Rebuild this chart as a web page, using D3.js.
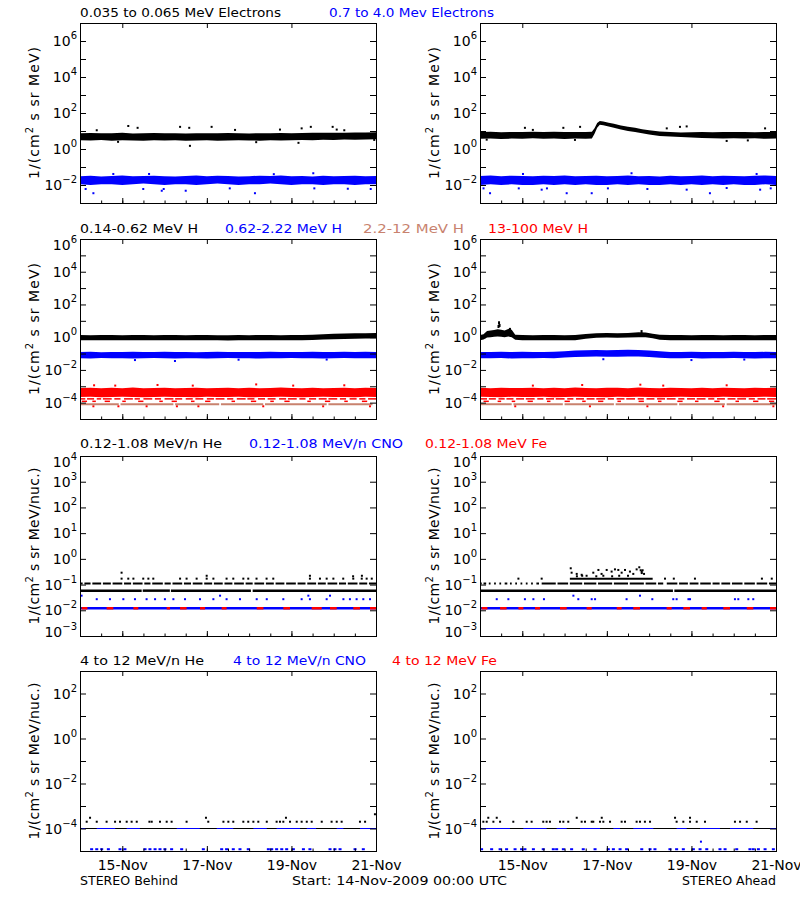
<!DOCTYPE html>
<html><head><meta charset="utf-8">
<script src="https://cdn.jsdelivr.net/npm/d3@7"></script>
<style>body{margin:0;background:#fff}svg{display:block}text{font-family:"DejaVu Sans",sans-serif}</style>
</head><body><svg id="c" width="800" height="900"></svg>
<script>
// ---------------- DATA (hours since 14-Nov-2009 00:00 UTC) ----------------
const hrs6 = [0,6,12,18,24,30,36,42,48,54,60,66,72,78,84,90,96,102,108,114,120,126,132,138,144,150,156,162,168];

// Row 1: electrons
const eLoB = [3.1,3.0,3.2,2.9,3.1,3.0,2.9,3.1,3.0,3.1,2.9,3.0,3.1,2.9,3.0,3.1,3.0,2.9,3.1,3.0,3.1,3.2,3.1,3.3,3.2,3.4,3.3,3.4,3.5];
const eHiB = [7.6,7.8,7.4,7.6,7.9,7.3,7.5,7.7,7.4,7.5,7.3,7.6,7.4,7.5,7.7,7.4,7.3,7.5,7.6,7.7,7.5,7.8,7.9,8.0,7.9,8.1,8.3,8.2,8.4];
const eOutB = [[21.6,2.5],[27.4,19],[32.7,15],[56.8,17],[62,15],[62.4,1.5],[74.7,17],[113.5,12],[124,2.2],[125.8,14],[131,17],[143.4,17],[145.7,12],[167,3.2],[9.5,11],[88,11.5],[100,2.4],[150,11]];
const ehLoB = [0.011,0.010,0.011,0.011,0.010,0.011,0.012,0.011,0.010,0.011,0.011,0.010,0.011,0.012,0.011,0.010,0.011,0.011,0.012,0.011,0.010,0.011,0.011,0.010,0.011,0.011,0.010,0.011,0.011];
const ehHiB = [0.031,0.033,0.030,0.032,0.034,0.031,0.032,0.033,0.031,0.030,0.032,0.034,0.031,0.033,0.032,0.030,0.031,0.033,0.032,0.034,0.031,0.032,0.030,0.033,0.031,0.032,0.033,0.031,0.032];
const ehOutB = [[3.2,0.006],[7.6,0.0035],[18.9,0.041],[35.9,0.006],[39.2,0.041],[46.4,0.0048],[47.5,0.006],[60,0.0048],[99.3,0.0035],[132.4,0.045],[133,0.0065],[165,0.006],[85,0.0065],[110,0.04],[152,0.0062]];

const eHrsA = [0,6,12,18,24,30,36,42,48,54,60,63.5,65,66.5,68,70,73,76,80,84,88,92,96,102,108,114,120,126,132,138,144,150,156,162,168];
const eLoA = [3.7,3.8,3.6,3.8,3.7,3.9,3.7,3.8,3.6,3.8,3.7,3.8,7,15,22,21,18,15,12,10,8.8,7.4,6.4,5.3,4.9,4.6,4.3,4.1,3.9,3.8,3.9,3.8,3.9,3.7,3.8];
const eHiA = [8.8,9.0,8.6,8.9,8.7,9.1,8.8,9.0,8.7,8.9,8.8,9.2,14,28,36,34,29,25,20,17,15,12.5,11,9.5,8.8,8.3,8.5,8.7,8.6,8.8,8.7,8.9,8.6,8.8,8.9];
const eOutA = [[25.5,15],[47.3,15],[56.8,17],[53.9,3.2],[106,14],[113.5,17],[117.3,18],[161.8,14],[152,3],[3.8,3.3],[140,2.8],[30,11.5]];
const ehLoA = [0.010,0.011,0.010,0.011,0.010,0.010,0.011,0.010,0.011,0.010,0.011,0.010,0.010,0.011,0.010,0.011,0.010,0.010,0.011,0.010,0.011,0.010,0.011,0.010,0.011,0.010,0.010,0.011,0.010];
const ehHiA = [0.032,0.034,0.031,0.033,0.032,0.031,0.033,0.032,0.034,0.031,0.032,0.033,0.031,0.032,0.034,0.031,0.032,0.030,0.033,0.031,0.032,0.034,0.031,0.033,0.032,0.031,0.033,0.034,0.032];
const ehOutA = [[5.7,0.0035],[2,0.0065],[35,0.0055],[49.2,0.0035],[63.4,0.0035],[72.6,0.0065],[117.3,0.0055],[130.5,0.0035],[159,0.0055],[165,0.0065],[24.4,0.041],[86,0.045],[157,0.041],[22,0.0065],[38,0.0065],[95,0.006],[140,0.0068]];

// Row 2: protons
const hLoB = [0.65,0.64,0.66,0.65,0.64,0.66,0.65,0.64,0.65,0.66,0.64,0.65,0.66,0.64,0.63,0.65,0.64,0.66,0.65,0.64,0.65,0.66,0.68,0.72,0.75,0.78,0.80,0.82,0.83];
const hHiB = [1.35,1.33,1.36,1.34,1.32,1.35,1.34,1.33,1.35,1.36,1.33,1.34,1.35,1.32,1.31,1.34,1.33,1.35,1.34,1.33,1.35,1.38,1.43,1.52,1.60,1.68,1.72,1.76,1.80];
const hbLoB = [0.052,0.050,0.053,0.051,0.052,0.050,0.051,0.053,0.052,0.050,0.051,0.052,0.050,0.051,0.053,0.052,0.051,0.050,0.052,0.051,0.053,0.052,0.051,0.050,0.052,0.053,0.051,0.052,0.051];
const hbHiB = [0.125,0.128,0.122,0.126,0.124,0.127,0.123,0.125,0.128,0.124,0.126,0.122,0.125,0.127,0.124,0.126,0.123,0.125,0.128,0.124,0.126,0.125,0.127,0.124,0.126,0.128,0.125,0.127,0.126];
const hbOutB = [[31.2,0.04],[53.9,0.035],[90,0.042],[140,0.043]];
const prLoB = [2.2e-4,2.3e-4,2.1e-4,2.2e-4,2.3e-4,2.2e-4,2.1e-4,2.2e-4,2.3e-4,2.2e-4,2.2e-4,2.1e-4,2.3e-4,2.2e-4,2.2e-4,2.3e-4,2.1e-4,2.2e-4,2.2e-4,2.3e-4,2.2e-4,2.1e-4,2.2e-4,2.3e-4,2.2e-4,2.2e-4,2.1e-4,2.3e-4,2.2e-4];
const prHiB = [7.8e-4,8.2e-4,7.5e-4,8.0e-4,7.7e-4,8.3e-4,7.6e-4,7.9e-4,8.1e-4,7.6e-4,7.8e-4,8.0e-4,7.5e-4,7.9e-4,8.2e-4,7.7e-4,8.0e-4,7.6e-4,7.9e-4,8.3e-4,7.8e-4,7.7e-4,8.1e-4,7.6e-4,7.9e-4,8.0e-4,7.7e-4,8.2e-4,7.9e-4];
const prOutB = [[8,1.15e-3],[20,1.1e-3],[44,1.2e-3],[64,1.1e-3],[100,1.3e-3],[121,1.1e-3],[150,1.15e-3],[7.6,6e-5],[21.8,6e-5],[37.8,6e-5],[55,6e-5],[67.2,6e-5],[104,6e-5],[138,6e-5],[164.6,6e-5]];
const prDash1B = [[0,3],[4,8],[9.5,12],[13,18],[19.5,23],[25,30],[31,34],[36,41],[42.5,46],[48,53],[54,58],[60,64],[65.5,70],[72,76],[77,82],[83.5,87],[89,94],[95,99],[101,105],[106.5,111],[113,117],[118,123],[124.5,128],[130,134],[135.5,140],[141,146],[147.5,151],[153,157],[158.5,162],[163.5,168]];
const prDash2B = [[1,4],[7,9],[14,17],[24,26],[33,36],[45,47],[52,55],[63,65],[71,74],[86,88],[97,100],[108,110],[116,119],[129,131],[139,142],[150,152],[160,163]];
const pmSegB = [[0,22],[23,53],[54,79],[80,104],[105,140],[141,166]];

const hHrsA = [0,2,4,6,8,10,12,14,16,18,20,24,30,36,42,48,54,60,66,72,78,84,90,94,98,102,108,114,120,126,132,138,144,150,156,162,168];
const hLoA = [0.66,0.72,0.95,1.0,1.05,1.1,1.05,1.0,1.1,1.0,0.70,0.65,0.64,0.66,0.65,0.64,0.66,0.80,0.92,0.95,0.93,0.96,1.0,1.0,0.85,0.70,0.66,0.65,0.64,0.66,0.65,0.64,0.65,0.66,0.64,0.65,0.66];
const hHiA = [1.36,1.5,2.4,2.6,2.7,3.0,2.8,2.6,3.2,2.8,1.4,1.34,1.32,1.35,1.34,1.33,1.36,1.55,1.75,1.78,1.76,1.82,2.0,1.95,1.6,1.4,1.35,1.34,1.33,1.36,1.34,1.33,1.35,1.34,1.33,1.35,1.36];
const hOutA = [[10.5,4.5],[10.8,7.6],[11.1,5.2],[17,3.0],[16.6,2.6],[91.7,2.2]];
const hbLoA = [0.052,0.051,0.053,0.050,0.052,0.051,0.053,0.052,0.058,0.062,0.064,0.065,0.063,0.064,0.066,0.065,0.062,0.056,0.052,0.051,0.053,0.050,0.052,0.051,0.053,0.052,0.050,0.052,0.051];
const hbHiA = [0.126,0.124,0.128,0.125,0.127,0.123,0.126,0.128,0.140,0.155,0.160,0.165,0.158,0.162,0.168,0.165,0.155,0.138,0.126,0.124,0.127,0.125,0.123,0.126,0.128,0.125,0.124,0.127,0.126];
const hbOutA = [[120,0.04],[70,0.045],[150,0.043]];
const prLoA = [2.3e-4,2.2e-4,2.1e-4,2.3e-4,2.2e-4,2.2e-4,2.3e-4,2.1e-4,2.2e-4,2.3e-4,2.2e-4,2.2e-4,2.1e-4,2.3e-4,2.2e-4,2.3e-4,2.2e-4,2.1e-4,2.2e-4,2.3e-4,2.2e-4,2.2e-4,2.1e-4,2.3e-4,2.2e-4,2.1e-4,2.2e-4,2.3e-4,2.2e-4];
const prHiA = [8.0e-4,7.6e-4,8.2e-4,7.8e-4,7.9e-4,8.1e-4,7.5e-4,8.0e-4,7.7e-4,8.3e-4,7.9e-4,7.6e-4,8.0e-4,8.2e-4,7.7e-4,8.4e-4,7.9e-4,7.6e-4,8.1e-4,7.8e-4,7.7e-4,8.0e-4,7.6e-4,8.2e-4,7.9e-4,7.7e-4,8.1e-4,7.8e-4,8.0e-4];
const prOutA = [[58,1.2e-3],[91,1.25e-3],[104,1.1e-3],[30,1.1e-3],[140,1.15e-3],[62.4,6e-5],[138,6e-5],[166.5,6e-5],[20,6e-5],[95,6e-5]];
const prDash1A = [[0,4],[5,9],[10.5,14],[15,19],[20.5,25],[26,31],[32.5,36],[37.5,42],[43,48],[49.5,53],[54.5,59],[60.5,65],[66,71],[72.5,76],[77.5,82],[83,88],[89.5,93],[94.5,99],[100.5,105],[106,111],[112.5,116],[117.5,122],[123,128],[129.5,133],[134.5,139],[140.5,145],[146,151],[152.5,156],[157.5,162],[163,168]];
const prDash2A = [[2,5],[10,12],[18,20],[27,30],[38,40],[48,51],[58,60],[67,70],[78,80],[90,93],[101,103],[112,115],[122,124],[133,136],[145,147],[155,158],[164,167]];
const pmSegA = [[0,18],[19,47],[48,76],[77,112],[113,139],[140,168]];

// Row 3: 0.12-1.08 MeV/n heavy ions (levels are count-quantized)
const he3Level = 0.058, he3DashLevel = 0.11, he3SparseLevel = 0.17, cno3Level = 0.012, cno3DotLevel = 0.027, cno3HighLevel = 0.037;
const he3SegB = [[0,35],[35.6,51],[51.6,97],[98,168]];
const he3DashB = [[0,1.5],[2.5,6],[7,12],[13,17.5],[18.5,24],[25,29],[30,35.5],[36.5,40],[41,47],[48,51.5],[52.5,58],[59,63],[64,69.5],[70.5,75],[76,81],[82,86.5],[87.5,93],[94,98],[99,104.5],[105.5,110],[111,116],[117,122.5],[123.5,128],[129,134],[135,139.5],[140.5,146],[147,151],[152,157.5],[158.5,163],[164,168]];
const he3SparseB = [23.6,27.4,30.3,35.9,38.8,41.6,56.8,60.5,66.2,71.9,75.7,83.2,87,92.7,95.5,100.2,105.9,109.7,130.5,136.2,140,143.8,149.4,155.1,159.9,162.7,165.6];
const he3HighB = [[23.6,0.29],[71.9,0.22],[130.5,0.22],[155,0.21],[160,0.22]];
const cno3DotsB = [9.5,17,24.6,31.2,37.8,42.6,48.2,53,59.6,68.1,75.7,83.2,90.8,100.3,106,115.4,125.8,130.5,140,149.5,153.2,157,160.8,164.6];
const cno3HighB = [0.9,79.5,129.6,141.9];
const fe3SegB = [[0.9,4.2],[15.1,18.9],[30.3,33.1],[49.2,51.1],[56.8,60.5],[68.1,71],[80.4,83.2],[100.3,104.1],[115.4,119.2],[131.5,137.2],[141.9,145.7],[155.1,158.9],[164.6,168]];

const he3SegA = [[0,109.5],[110.3,168]];
const he3DashA = [[0,1],[2,3.5],[5,6],[8,9],[11,12],[14,15.5],[17,18],[20,21],[23,24],[26,27],[29,30],[32,33.5],[35,43],[44,50],[51,58],[59,66],[67,75],[76,84],[85,93],[94,100],[101,104],[106,112],[113,118],[119,124],[125,131],[132,136],[137,142],[143,149],[150,156],[157,163],[164,168]];
const he3SparseA = [21.8,35,105,110,122,160,165.6];
const he3BarA = [[51,98]];
const he3ClusterA = [[51.5,0.43],[52,0.29],[54.9,0.26],[57.7,0.24],[60.5,0.22],[64.3,0.29],[67.2,0.37],[69,0.26],[71.9,0.37],[74.7,0.32],[76.6,0.39],[78.5,0.37],[80.4,0.29],[82.3,0.37],[85.1,0.32],[87,0.26],[88.9,0.39],[90.4,0.47],[91.8,0.32],[93.1,0.26],[55,0.21],[58,0.22],[66,0.21],[70,0.22],[75,0.21],[79,0.22],[84,0.22],[91.2,0.36],[92.3,0.36],[91.8,0.28]];
const cno3DotsA = [9.5,16.1,25.5,30.3,36.3,55.8,63.4,65.3,83.2,97.8,109.7,111.6,118.3,119.2,144.7,146.6,152.3,155.1];
const cno3HighA = [53,90.8];
const fe3SegA = [[0.9,4.2],[11.4,15.1],[21.8,24.6],[31.2,34.1],[45.4,49.2],[60.5,63.4],[77.6,80.4],[87,90.8],[105.9,108.8],[115.4,119.2],[125.8,128.7],[138.1,141.9],[151.4,155.1],[164.6,168]];

// Row 4: 4-12 MeV/n heavy ions
const he4Level = 1e-4, he4DotLevel = 2e-4, cno4DotLevel = 1.2e-5;
const he4SegB = [[0,168]];
const cno4SegB = [[0.9,3],[9.5,20],[26.5,34],[54.9,68],[77.6,87],[98.4,106],[111.6,124.9],[128.7,134],[145.7,149.5],[158.9,168]];
const he4DotsB = [3.8,9.5,15.1,19.9,22.7,26.5,29.3,32.2,39.4,40.7,45.4,49.2,52,60.5,72.8,81.4,84.2,87,92.7,95.5,98.4,101.2,106,111.6,113.5,115.4,119.2,123,125.8,128.7,131.5,137.2,142.8,145.7,148.5,158.9,161.8];
const he4HighB = [[5.7,3e-4],[71.5,3e-4],[116.9,3e-4],[167.4,4.3e-4]];
const cno4DotsB = [6.6,9.5,12.3,16.1,22.7,25.5,36.9,39.7,42.6,45.4,48.2,52,57.7,70,80.4,83.2,87,90.8,95.5,106.9,108.8,111.6,114.5,117.3,121.1,126.8,130.5,141.9,144.7,147.6,156.1,160.8];

const he4SegA = [[0,168]];
const cno4SegA = [[0.9,17],[24.6,37.8],[43.5,49.2],[56.8,68.1],[75.7,79.5],[87,98.4],[111.6,117.3],[124.9,136.2],[141.9,155.1],[164.6,168]];
const he4DotsA = [1.9,3.8,7.6,11.4,18.9,26.5,29.3,35.9,37.8,39.7,45.4,47.3,50.1,57.7,59.6,63.4,64.3,68.1,70,73.8,80.4,82.3,88.9,90.8,93.6,96.5,111.6,115.4,119.2,123,127.7,144.7,147.6,151.4,157];
const he4HighA = [[4.7,3e-4],[9.5,3e-4],[54.9,3e-4],[69.1,3e-4],[110.7,3e-4],[119.2,3e-4]];
const cno4DotsA = [0.9,6.6,11.4,15.1,19.9,23.6,25.5,30.3,35.9,41.6,43.5,47.3,52,58.6,65.3,72.8,75.7,79.5,83.2,91.8,96.5,99.3,107.8,111.6,115.4,121.1,124.9,128.7,136.2,139.1,145.7,153.2,155.1,158,161.8,166.5];
const cno4OddA = [[125.4,2.6e-5]];

// Text
const titleText = [["0.035 to 0.065 MeV Electrons","0.7 to 4.0 Mev Electrons"],
  ["0.14-0.62 MeV H","0.62-2.22 MeV H","2.2-12 MeV H","13-100 MeV H"],
  ["0.12-1.08 MeV/n He","0.12-1.08 MeV/n CNO","0.12-1.08 MeV Fe"],
  ["4 to 12 MeV/n He","4 to 12 MeV/n CNO","4 to 12 MeV Fe"]];
const yTitleUnit = ["MeV)","MeV)","MeV/nuc.)","MeV/nuc.)"];

// ---------------- LAYOUT / STYLE ----------------
const BLUE="#0000ff", RED="#ff0000", SIENNA="#c8826e", BLACK="#000000";
const titleColor = [[BLACK,BLUE],[BLACK,BLUE,SIENNA,RED],[BLACK,BLUE,RED],[BLACK,BLUE,RED]];
const titlePos = [[[80,201],[329,165]],[[80,118],[225,117],[363,101],[488,100]],[[80,142],[249,154],[425,122]],[[80,124],[233,133],[392,105]]];
const titleBase = [17,233,448,665];
const PW=296, PH=180;
const colX=[80,480];
const rowY=[23,239,456,671];
const rowExp=[[-3,7],[-5,6],[-3,4],[-5,3]];
const rowStep=[2,2,1,2];
const yTitleLen=[132,132,157,157];

const t0 = Date.UTC(2009,10,14,0,0);
const toDate = h => new Date(t0 + h*3600000);
const svg = d3.select("#c");
let clipN=0;

function makePanel(r,c){
  const x=d3.scaleUtc().domain([toDate(0),toDate(168)]).range([colX[c],colX[c]+PW]);
  const y=d3.scaleLog().domain([10**rowExp[r][0],10**rowExp[r][1]]).range([rowY[r]+PH,rowY[r]]);
  const id="clip"+(clipN++);
  svg.append("clipPath").attr("id",id).append("rect").attr("x",colX[c]).attr("y",rowY[r]).attr("width",PW+1).attr("height",PH+1);
  const g=svg.append("g").attr("clip-path",`url(#${id})`);
  return {x,y,g,r,c};
}
function band(p,hours,lo,hi,color){
  const area=d3.area().x((d,i)=>p.x(toDate(hours[i]))).y0((d,i)=>p.y(lo[i])).y1((d,i)=>p.y(hi[i]));
  p.g.append("path").datum(hours).attr("d",area).attr("fill",color);
}
function pts(p,data,color,w=2,h=2){
  p.g.append("g").selectAll("rect").data(data).join("rect")
   .attr("x",d=>p.x(toDate(d[0]))-w/2).attr("y",d=>p.y(d[1])-h/2)
   .attr("width",w).attr("height",h).attr("fill",color);
}
function lvl(p,hours,v,color,w=2,h=2){ pts(p,hours.map(t=>[t,v]),color,w,h); }
function segs(p,list,v,color,sw){
  p.g.append("g").selectAll("line").data(list).join("line")
   .attr("x1",d=>p.x(toDate(d[0]))).attr("x2",d=>p.x(toDate(d[1])))
   .attr("y1",p.y(v)).attr("y2",p.y(v)).attr("stroke",color).attr("stroke-width",sw);
}
function axes(p){
  const {x,y,r,c}=p; const top=rowY[r], bot=top+PH, left=colX[c], right=left+PW;
  const exps=d3.range(rowExp[r][0],rowExp[r][1]+1);
  const dec=exps.map(e=>10**e);
  const style=g=>{g.select(".domain").remove(); g.selectAll("line").attr("stroke","#000"); };
  svg.append("g").attr("transform",`translate(${left},0)`).call(d3.axisLeft(y).tickValues(dec).tickSize(-6).tickFormat("")).call(style);
  svg.append("g").attr("transform",`translate(${right},0)`).call(d3.axisRight(y).tickValues(dec).tickSize(-6).tickFormat("")).call(style);
  svg.append("g").attr("transform",`translate(0,${bot})`).call(d3.axisBottom(x).ticks(d3.utcHour.every(12)).tickSize(-2.5).tickFormat("")).call(style);
  const gb=svg.append("g").attr("transform",`translate(0,${bot})`)
   .call(d3.axisBottom(x).ticks(d3.utcDay.every(2)).tickSize(-5).tickPadding(9).tickFormat(r===3?d3.utcFormat("%d-%b"):"")).call(style);
  gb.selectAll("text").attr("font-size","14px").attr("font-family","DejaVu Sans").attr("fill","#000");
  svg.append("g").attr("transform",`translate(0,${top})`).call(d3.axisTop(x).ticks(d3.utcDay.every(2)).tickSize(-5).tickFormat("")).call(style);
  svg.append("rect").attr("x",left+0.5).attr("y",top+0.5).attr("width",PW).attr("height",PH).attr("fill","none").attr("stroke","#000");
  // y tick labels 10^n (edge labels nudged inside, as in the original)
  const labs=exps.filter(e=>((e%rowStep[r])+rowStep[r])%rowStep[r]===0);
  const nudge=e=> e===rowExp[r][1]?6:(e===rowExp[r][0]?-4:0);
  const t=svg.append("g").selectAll("text").data(labs).join("text")
    .attr("x",left-3).attr("y",e=>y(10**e)+5+nudge(e)).attr("text-anchor","end").attr("fill","#000");
  t.append("tspan").attr("font-size","14px").text("10");
  t.append("tspan").attr("font-size","10px").attr("dy",-7).text(e=>e<0?"\u2212"+(-e):String(e));
  // y title
  const cy=top+PH/2;
  const yt=svg.append("text").attr("transform",`translate(${left-41},${cy}) rotate(-90)`).attr("text-anchor","middle")
    .attr("font-size","14px").attr("textLength",yTitleLen[r]).attr("fill","#000");
  yt.append("tspan").text("1/(cm");
  yt.append("tspan").attr("font-size","10px").attr("dy",-6).text("2");
  yt.append("tspan").attr("dy",6).text(" s sr "+yTitleUnit[r]);
}

// ---------------- DRAW ----------------
const P={};
for(let r=0;r<4;r++) for(let c=0;c<2;c++) P[r+"_"+c]=makePanel(r,c);

// row 1
let p=P["0_0"]; band(p,hrs6,eLoB,eHiB,BLACK); pts(p,eOutB,BLACK); band(p,hrs6,ehLoB,ehHiB,BLUE); pts(p,ehOutB,BLUE);
p=P["0_1"]; band(p,eHrsA,eLoA,eHiA,BLACK); pts(p,eOutA,BLACK); band(p,hrs6,ehLoA,ehHiA,BLUE); pts(p,ehOutA,BLUE);
// row 2
p=P["1_0"]; band(p,hrs6,prLoB,prHiB,RED); pts(p,prOutB,RED); segs(p,prDash1B,1.7e-4,RED,1.5); segs(p,prDash2B,1.2e-4,RED,1.5); segs(p,pmSegB,8e-5,SIENNA,2);
band(p,hrs6,hbLoB,hbHiB,BLUE); pts(p,hbOutB,BLUE); band(p,hrs6,hLoB,hHiB,BLACK);
p=P["1_1"]; band(p,hrs6,prLoA,prHiA,RED); pts(p,prOutA,RED); segs(p,prDash1A,1.7e-4,RED,1.5); segs(p,prDash2A,1.2e-4,RED,1.5); segs(p,pmSegA,8e-5,SIENNA,2);
band(p,hrs6,hbLoA,hbHiA,BLUE); pts(p,hbOutA,BLUE); band(p,hHrsA,hLoA,hHiA,BLACK); pts(p,hOutA,BLACK,2,3);
// row 3
p=P["2_0"]; segs(p,he3SegB,he3Level,BLACK,2.5); segs(p,he3DashB,he3DashLevel,BLACK,2); lvl(p,he3SparseB,he3SparseLevel,BLACK); pts(p,he3HighB,BLACK);
segs(p,[[0,168]],cno3Level,BLUE,2.5); segs(p,fe3SegB,cno3Level,RED,2.5); lvl(p,cno3DotsB,cno3DotLevel,BLUE); lvl(p,cno3HighB,cno3HighLevel,BLUE);
p=P["2_1"]; segs(p,he3SegA,he3Level,BLACK,2.5); segs(p,he3DashA,he3DashLevel,BLACK,2); lvl(p,he3SparseA,he3SparseLevel,BLACK); segs(p,he3BarA,he3SparseLevel,BLACK,2); pts(p,he3ClusterA,BLACK);
segs(p,[[0,168]],cno3Level,BLUE,2.5); segs(p,fe3SegA,cno3Level,RED,2.5); lvl(p,cno3DotsA,cno3DotLevel,BLUE); lvl(p,cno3HighA,cno3HighLevel,BLUE);
// row 4
p=P["3_0"]; segs(p,he4SegB,he4Level,BLACK,1); segs(p,cno4SegB,he4Level,BLUE,1); lvl(p,he4DotsB,he4DotLevel,BLACK); pts(p,he4HighB,BLACK); lvl(p,cno4DotsB,cno4DotLevel,BLUE,3,2);
p=P["3_1"]; segs(p,he4SegA,he4Level,BLACK,1); segs(p,cno4SegA,he4Level,BLUE,1); lvl(p,he4DotsA,he4DotLevel,BLACK); pts(p,he4HighA,BLACK); lvl(p,cno4DotsA,cno4DotLevel,BLUE,3,2); pts(p,cno4OddA,BLUE);

for(const k in P) axes(P[k]);

// titles
titleText.forEach((row,r)=>row.forEach((s,i)=>{
  svg.append("text").attr("x",titlePos[r][i][0]).attr("y",titleBase[r]).attr("font-size","13px")
   .attr("textLength",titlePos[r][i][1]).attr("lengthAdjust","spacingAndGlyphs").attr("fill",titleColor[r][i]).text(s);
}));
// footer
const foot=[["STEREO Behind",80,98],["Start: 14-Nov-2009 00:00 UTC",292,215],["STEREO Ahead",682,94]];
foot.forEach(f=>svg.append("text").attr("x",f[1]).attr("y",885).attr("font-size","13px").attr("textLength",f[2]).attr("lengthAdjust","spacingAndGlyphs").attr("fill","#000").text(f[0]));
</script></body></html>
